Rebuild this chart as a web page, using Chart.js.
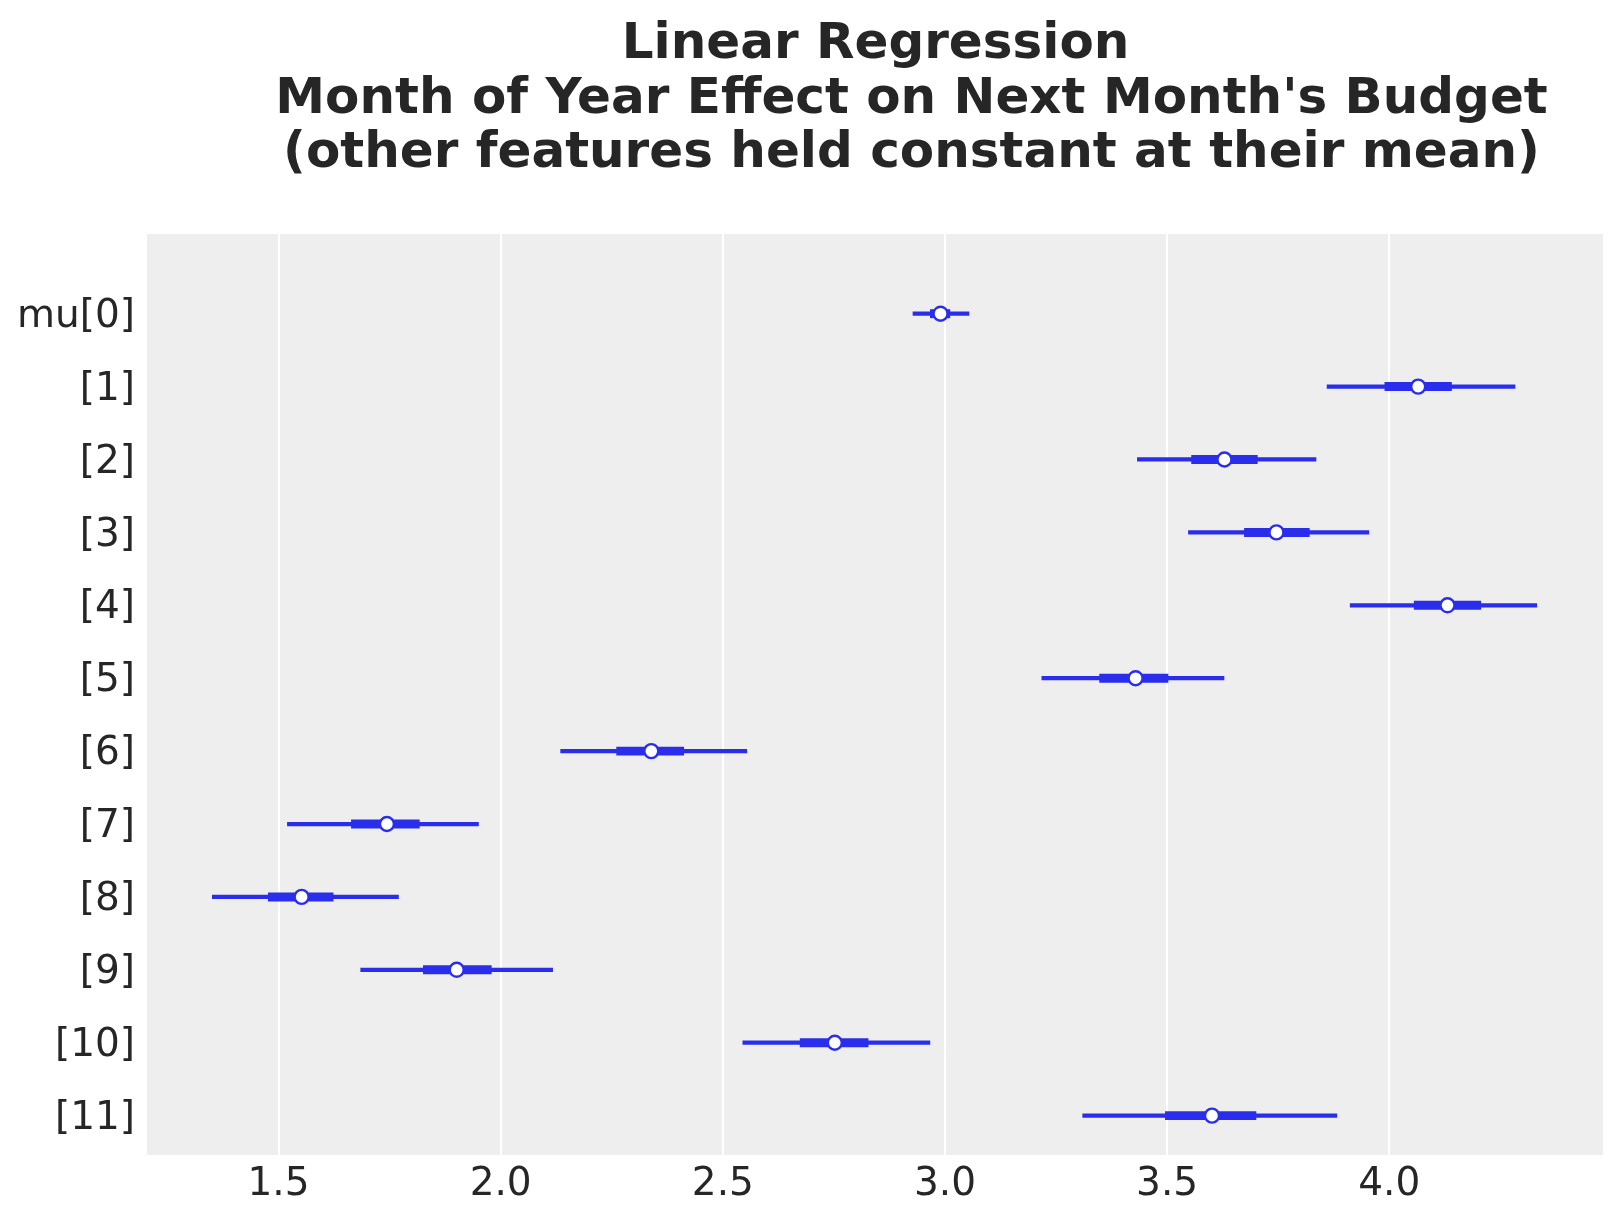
<!DOCTYPE html>
<html>
<head>
<meta charset="utf-8">
<script src="https://cdn.jsdelivr.net/npm/chart.js@4"></script>
<style>
  html, body { margin: 0; padding: 0; background: #ffffff; }
  #wrap { width: 1623px; height: 1223px; position: relative; }
</style>
</head>
<body>
<div id="wrap"><canvas id="c"></canvas></div>
<script>
// ---- data ----
const labels = ['mu[0]', '[1]', '[2]', '[3]', '[4]', '[5]', '[6]', '[7]', '[8]', '[9]', '[10]', '[11]'];
const hdiLow  = [2.928, 3.860, 3.433, 3.548, 3.912, 3.218, 2.135, 1.520, 1.351, 1.685, 2.545, 3.310];
const hdiHigh = [3.054, 4.283, 3.835, 3.954, 4.332, 3.628, 2.554, 1.950, 1.770, 2.117, 2.966, 3.882];
const iqrLow  = [2.967, 3.990, 3.555, 3.674, 4.056, 3.348, 2.261, 1.664, 1.477, 1.826, 2.674, 3.496];
const iqrHigh = [3.011, 4.140, 3.703, 3.820, 4.206, 3.502, 2.412, 1.817, 1.623, 1.979, 2.827, 3.700];
const medians = [2.990, 4.065, 3.629, 3.746, 4.131, 3.429, 2.339, 1.744, 1.552, 1.901, 2.752, 3.601];
const xTicks = [1.5, 2.0, 2.5, 3.0, 3.5, 4.0];
const titleLines = ['Linear Regression', "Month of Year Effect on Next Month's Budget", '(other features held constant at their mean)'];

// ---- styling ----
const BLUE = '#2a2eec';
const TEXT = '#262626';
const FONT = '"DejaVu Sans", sans-serif';

const bgPlugin = {
  id: 'bg',
  beforeDraw(chart) {
    const { ctx, chartArea: a } = chart;
    ctx.save();
    ctx.fillStyle = '#eeeeee';
    ctx.fillRect(a.left, a.top, a.right - a.left, a.bottom - a.top);
    ctx.restore();
  }
};

const titlePlugin = {
  id: 'multiTitle',
  afterDraw(chart) {
    const ctx = chart.ctx;
    ctx.save();
    ctx.font = 'bold 50px ' + FONT;
    ctx.fillStyle = TEXT;
    ctx.textAlign = 'center';
    ctx.textBaseline = 'alphabetic';
    const pos = [[875.5, 57.5], [911.5, 113], [911.5, 167]];
    titleLines.forEach((t, i) => ctx.fillText(t, pos[i][0], pos[i][1]));
    ctx.restore();
  }
};

const idx = labels.map((_, i) => i);

new Chart(document.getElementById('c'), {
  type: 'bar',
  data: {
    datasets: [
      {
        type: 'line',
        label: 'median',
        data: idx.map(i => ({ x: medians[i], y: i })),
        showLine: false,
        pointStyle: 'circle',
        pointRadius: 7,
        pointBackgroundColor: '#ffffff',
        pointBorderColor: BLUE,
        pointBorderWidth: 2.4,
        order: 0
      },
      {
        label: 'iqr',
        data: idx.map(i => ({ x: [iqrLow[i], iqrHigh[i]], y: i })),
        backgroundColor: BLUE,
        borderWidth: 0,
        barThickness: 8.3,
        grouped: false,
        order: 1
      },
      {
        label: 'hdi',
        data: idx.map(i => ({ x: [hdiLow[i], hdiHigh[i]], y: i })),
        backgroundColor: BLUE,
        borderWidth: 0,
        barThickness: 3.6,
        grouped: false,
        order: 2
      }
    ]
  },
  options: {
    indexAxis: 'y',
    responsive: true,
    maintainAspectRatio: false,
    animation: false,
    layout: { padding: { top: 234, right: 20, left: 0, bottom: 0 } },
    plugins: { legend: { display: false }, tooltip: { enabled: false }, title: { display: false } },
    scales: {
      x: {
        type: 'linear',
        position: 'bottom',
        offset: false,
        min: 1.204,
        max: 4.481,
        afterBuildTicks: (axis) => { axis.ticks = xTicks.map(v => ({ value: v })); },
        afterFit: (axis) => { axis.height = 68; },
        ticks: {
          callback: (v) => Number(v).toFixed(1),
          color: TEXT,
          font: { family: FONT, size: 39 },
          padding: 6,
          maxRotation: 0
        },
        grid: { color: '#ffffff', lineWidth: 2, drawTicks: false, offset: false },
        border: { display: false }
      },
      y: {
        type: 'linear',
        position: 'left',
        offset: false,
        reverse: true,
        min: -1.093,
        max: 11.54,
        afterBuildTicks: (axis) => { axis.ticks = idx.map(i => ({ value: i })); },
        afterFit: (axis) => { axis.width = 147; },
        ticks: {
          callback: (v) => labels[v],
          color: TEXT,
          font: { family: FONT, size: 39 },
          padding: 12,
          labelOffset: 3
        },
        grid: { display: false, drawTicks: false, offset: false },
        border: { display: false }
      }
    }
  },
  plugins: [bgPlugin, titlePlugin]
});
</script>
</body>
</html>
